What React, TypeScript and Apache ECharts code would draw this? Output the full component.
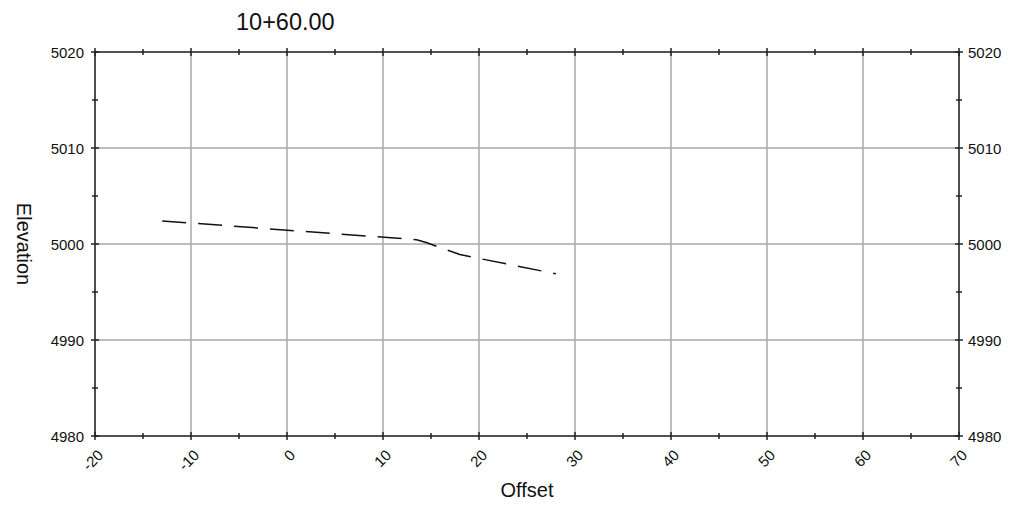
import React, { useEffect, useRef } from "react";
import * as echarts from "echarts";

const titleText = "10+60.00";
const xName = "Offset";
const yName = "Elevation";
const xMin = -20;
const xMax = 70;
const yMin = 4980;
const yMax = 5020;
const offsets = [-13, 13.5, 14.5, 18, 28];
const elevations = [5002.4, 5000.45, 5000.15, 4998.9, 4996.9];

const FONT = "'Liberation Sans', Arial, sans-serif";
const AXIS_COLOR = "#505050";
const GRID_COLOR = "#a8a8a8";

export default function App() {
  const ref = useRef<HTMLDivElement>(null);
  useEffect(() => {
    if (!ref.current) return;
    const chart = echarts.init(ref.current, undefined, { renderer: "svg" });
    const data = offsets.map((x, i) => [x, elevations[i]]);

    const baseX = (position: string, inside: boolean, labels: boolean, grid: boolean, name: boolean) => ({
      type: "value",
      position,
      min: xMin,
      max: xMax,
      interval: 10,
      name: name ? xName : undefined,
      nameLocation: "middle",
      nameGap: 44,
      nameTextStyle: { fontFamily: FONT, fontSize: 20, color: "#111" },
      axisLine: { show: true, onZero: false, lineStyle: { color: AXIS_COLOR, width: 2 } },
      axisTick: { show: true, inside, length: 4, lineStyle: { color: "#222", width: 1.5 } },
      minorTick: { show: true, splitNumber: 2, length: 3, lineStyle: { color: "#222", width: 1.5 } },
      axisLabel: {
        show: labels,
        rotate: 45,
        margin: 11,
        align: "right",
        verticalAlign: "top",
        fontFamily: FONT,
        fontSize: 15,
        color: "#111",
        formatter: (v: number) => String(v),
      },
      splitLine: { show: grid, lineStyle: { color: GRID_COLOR, width: 1.5 } },
      minorSplitLine: { show: false },
    });

    const baseY = (position: string, inside: boolean, labels: boolean, grid: boolean, name: boolean, margin: number) => ({
      type: "value",
      position,
      min: yMin,
      max: yMax,
      interval: 10,
      name: name ? yName : undefined,
      nameLocation: "middle",
      nameGap: 61,
      nameRotate: -90,
      nameTextStyle: { fontFamily: FONT, fontSize: 20, color: "#111" },
      axisLine: { show: true, onZero: false, lineStyle: { color: AXIS_COLOR, width: 2 } },
      axisTick: { show: true, inside, length: 4, lineStyle: { color: "#222", width: 1.5 } },
      minorTick: { show: true, splitNumber: 2, length: 3, lineStyle: { color: "#222", width: 1.5 } },
      axisLabel: {
        show: labels,
        margin,
        fontFamily: FONT,
        fontSize: 15,
        color: "#111",
        formatter: (v: number) => String(v),
      },
      splitLine: { show: grid, lineStyle: { color: GRID_COLOR, width: 1.5 } },
      minorSplitLine: { show: false },
    });

    chart.setOption({
      animation: false,
      backgroundColor: "#ffffff",
      grid: { left: 95, right: 54, top: 52, bottom: 72, containLabel: false },
      graphic: [
        {
          type: "text",
          left: 236,
          top: 10,
          style: { text: titleText, fontFamily: FONT, fontSize: 23.5, fill: "#111" },
        },
      ],
      xAxis: [
        baseX("bottom", false, true, true, true),
        baseX("bottom", true, false, false, false),
        baseX("top", false, false, false, false),
        baseX("top", true, false, false, false),
      ],
      yAxis: [
        baseY("left", false, true, true, true, 11),
        baseY("left", true, false, false, false, 11),
        baseY("right", false, true, false, false, 9),
        baseY("right", true, false, false, false, 9),
      ],
      series: [
        {
          type: "line",
          xAxisIndex: 0,
          yAxisIndex: 0,
          data,
          showSymbol: false,
          symbol: "none",
          smooth: false,
          lineStyle: { color: "#111", width: 1.5, type: [24, 12] },
        },
      ],
    });
    return () => chart.dispose();
  }, []);
  return (
    <div
      ref={ref}
      style={{ position: "fixed", left: 0, top: 0, width: 1013, height: 508 }}
    />
  );
}
